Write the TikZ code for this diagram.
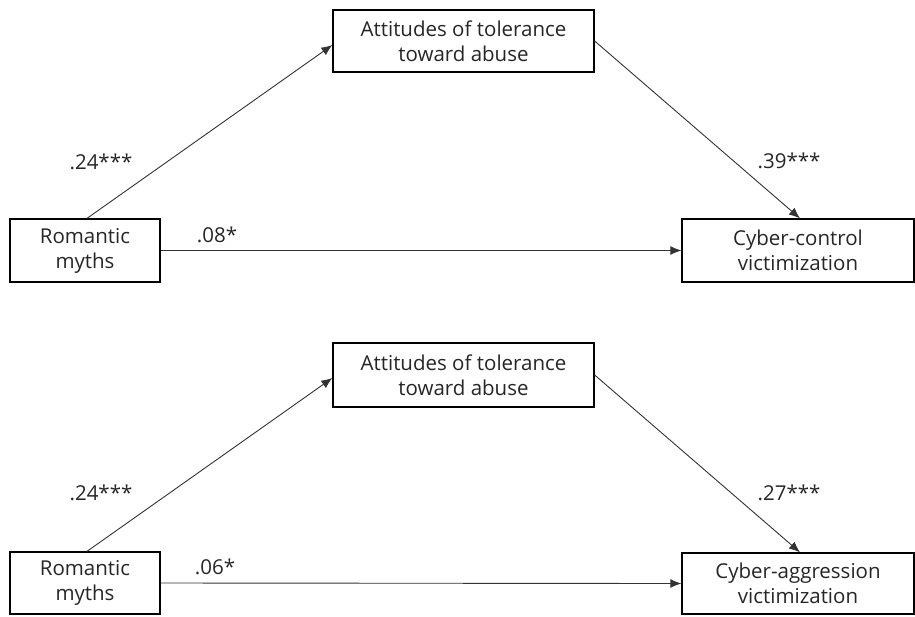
\documentclass[tikz,border=0pt]{standalone}
\usepackage{fontspec}
\setmainfont{Open Sans}
\usetikzlibrary{arrows.meta}

\begin{document}
\begin{tikzpicture}[x=1pt,y=-1pt,
		box/.style={draw=black,line width=1.3pt,align=center,inner sep=0pt,font=\fontsize{20.5}{25}\selectfont,text=black!85},
		path/.style={draw=black!80,line width=0.9pt,-{Latex[length=11pt,width=9pt]}},
		coef/.style={font=\fontsize{20.5}{24}\selectfont,text=black!85}]
	\useasboundingbox (0,0) rectangle (915,616);
	
	% upper model
	\node[box,minimum width=150pt,minimum height=63pt] (RM1) at (85,250.5) {Romantic\\myths};
	\node[box,minimum width=261pt,minimum height=62pt] (AT1) at (463.5,41) {Attitudes of tolerance\\toward abuse};
	\node[box,minimum width=232pt,minimum height=63pt] (CC1) at (798,250.5) {Cyber-control\\victimization};
	
	\draw[path] ([xshift=2pt]RM1.north) -- ([yshift=-4pt]AT1.west);
	\draw[path] (AT1.east) -- ([xshift=2pt]CC1.north);
	\draw[path] (RM1.east) -- (CC1.west);
	
	\node[coef] at (101,162) {.24***};
	\node[coef] at (789,161) {.39***};
	\node[coef] at (217,235) {.08*};
	
	% lower model
	\node[box,minimum width=150pt,minimum height=62pt] (RM2) at (85,583) {Romantic\\myths};
	\node[box,minimum width=261pt,minimum height=64pt] (AT2) at (463.5,375) {Attitudes of tolerance\\toward abuse};
	\node[box,minimum width=232pt,minimum height=61pt] (CA2) at (798,583.5) {Cyber-aggression\\victimization};
	
	\draw[path] ([xshift=2pt]RM2.north) -- ([yshift=-3pt]AT2.west);
	\draw[path] (AT2.east) -- ([xshift=2pt]CA2.north);
	\draw[path] (RM2.east) -- (CA2.west);
	
	\node[coef] at (101,493) {.24***};
	\node[coef] at (789,493) {.27***};
	\node[coef] at (215,567) {.06*};
\end{tikzpicture}
\end{document}
